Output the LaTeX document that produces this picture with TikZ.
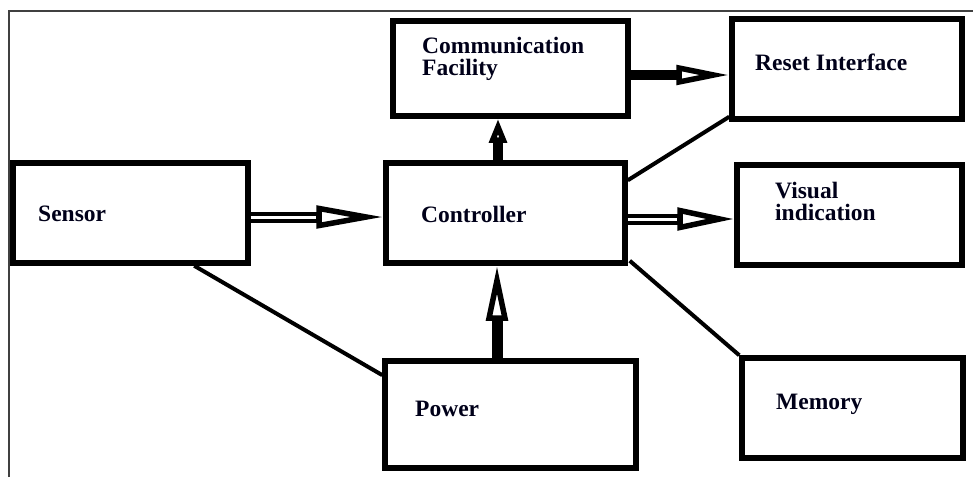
\documentclass[tikz,border=0pt]{standalone}
\usepackage{fontspec}
\setmainfont{Liberation Serif}
\usetikzlibrary{arrows.meta,calc}
\begin{document}
\begin{tikzpicture}[x=1pt,y=-1pt,
  box/.style 2 args={draw, line width=5.5pt, minimum width=#1pt, minimum height=#2pt, inner sep=0pt},
  lbl/.style={font=\bfseries\fontsize{23.5}{22}\selectfont, inner sep=0pt, align=left, text=black!90!blue},
  dshaft/.style={draw, line width=4pt, double=white, double distance=3pt},
  sshaft/.style={draw, line width=10pt},
  hollow/.style 2 args={line width=5.5pt, -{Triangle[open, fill=white, length=#1pt 0, width=#2pt 0, line width=5.5pt]}},
  wire/.style={draw, line width=4pt}]
\useasboundingbox (0,0) rectangle (973,477);

% outer frame
\draw[line width=1.5pt, black!75] (9,477) -- (9,11) -- (973,11);

% blocks
\node[box={235}{95}]  (comm)   at (510.5,68.5) {};
\node[box={230}{100}] (reset)  at (847,69)     {};
\node[box={235}{100}] (sensor) at (130.5,213)  {};
\node[box={239}{100}] (ctrl)   at (505.5,213)  {};
\node[box={225}{100}] (visual) at (849.5,215)  {};
\node[box={221}{100}] (memory) at (852.5,408)  {};
\node[box={251}{107}] (power)  at (510.5,414.5) {};

% block texts
\node[lbl, anchor=base west] (comm-t)   at (422,75)  {Communication\\Facility};
\node[lbl, anchor=base west] (reset-t)  at (755,70)  {Reset Interface};
\node[lbl, anchor=base west] (sensor-t) at (38,221)  {Sensor};
\node[lbl, anchor=base west] (ctrl-t)   at (421,222) {Controller};
\node[lbl, anchor=base west] (visual-t) at (775,220) {Visual\\indication};
\node[lbl, anchor=base west] (memory-t) at (776,409) {Memory};
\node[lbl, anchor=base west] (power-t)  at (415,416) {Power};

% Sensor -> Controller
\coordinate (sA) at ($(sensor.east)+(0,4)$);
\coordinate (sB) at ($(ctrl.west)+(0,4)$);
\draw[dshaft, shorten >=66pt] (sA) -- (sB);
\draw[hollow={67}{22}] ($(sB)!67pt!(sA)$) -- (sB);

% Controller -> Visual indication
\coordinate (vA) at ($(ctrl.east)+(0,6)$);
\coordinate (vB) at ($(visual.west)+(0,4)$);
\draw[dshaft, shorten >=56pt] (vA) -- (vB);
\draw[hollow={57}{22}] ($(vB)!57pt!(vA)$) -- (vB);

% Controller -> Communication Facility
\coordinate (cA) at ($(ctrl.north)+(-7.5,0)$);
\coordinate (cB) at ($(comm.south)+(-12.5,0)$);
\draw[sshaft, shorten >=23pt] (cA) -- (cB);
\draw[hollow={24}{17}] ($(cB)!24pt!(cA)$) -- (cB);

% Communication Facility -> Reset Interface
\coordinate (rA) at ($(comm.east)+(0,6.5)$);
\coordinate (rB) at ($(reset.west)+(0,6)$);
\draw[sshaft, shorten >=52pt] (rA) -- (rB);
\draw[hollow={53}{19}] ($(rB)!53pt!(rA)$) -- (rB);

% Power -> Controller
\coordinate (pA) at ($(power.north)+(-13.5,0)$);
\coordinate (pB) at ($(ctrl.south)+(-8.5,0)$);
\draw[sshaft, line width=11pt, shorten >=54pt] (pA) -- (pB);
\draw[hollow={55}{21}] ($(pB)!55pt!(pA)$) -- (pB);

% plain links
\draw[wire] ($(sensor.south west)!0.765!(sensor.south east)$) -- ($(power.north west)!0.15!(power.south west)$);
\draw[wire] ($(ctrl.north east)!0.19!(ctrl.south east)$) -- ($(reset.south west)+(0,-5)$);
\draw[wire] ($(ctrl.south east)+(2,-5)$) -- (memory.north west);
\end{tikzpicture}
\end{document}
